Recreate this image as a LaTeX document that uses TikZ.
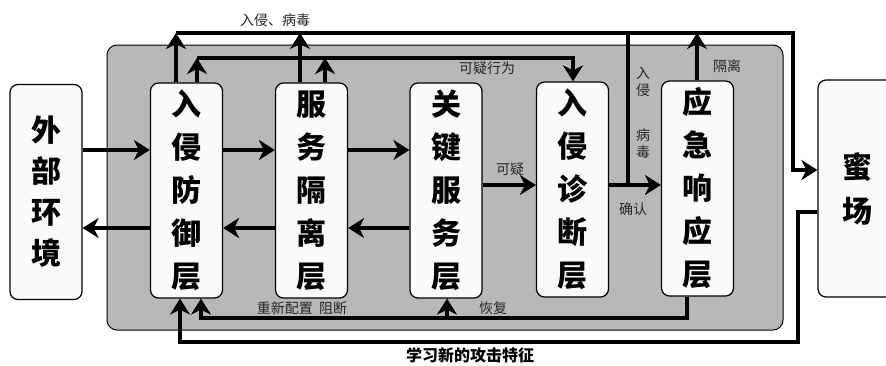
\documentclass[tikz,border=0pt]{standalone}
\usepackage{fontspec}
\newfontfamily\cjk{Noto Sans CJK SC}
\usetikzlibrary{arrows.meta}
\definecolor{panelgray}{gray}{0.72}
\definecolor{boxwhite}{gray}{0.98}
\begin{document}
\begin{tikzpicture}[x=1pt,y=-1pt,
  box/.style={draw, line width=1.2pt, rounded corners=8pt, fill=boxwhite, minimum width=72pt, minimum height=215pt, inner sep=0pt, align=center, font=\cjk\bfseries\fontsize{30}{43}\selectfont},
  panel/.style={draw, line width=1pt, rounded corners=10pt, fill=panelgray, minimum width=676pt, minimum height=285pt, inner sep=0pt},
  arr/.style={line width=4pt, -{Stealth[length=16pt,width=20pt,inset=5pt]}},
  bus/.style={line width=4pt},
  lbl/.style={font=\cjk\fontsize{14}{17}\selectfont, text=black!85, inner sep=0pt, align=center},
  captxt/.style={font=\cjk\bfseries\fontsize{16}{16}\selectfont, inner sep=0pt}
]
\useasboundingbox (0,0) rectangle (886,365);
\node[panel] (panel) at (445,187.5) {};

\node[box, font=\cjk\bfseries\fontsize{30}{41}\selectfont] (ext) at (46,192) {外\\部\\环\\境};
\node[box] (ids) at (186.5,190.5) {入\\侵\\防\\御\\层};
\node[box] (iso) at (311.5,190.5) {服\\务\\隔\\离\\层};
\node[box] (key) at (446,190.5) {关\\键\\服\\务\\层};
\node[box] (diag) at (572.5,189.5) {入\\侵\\诊\\断\\层};
\node[box] (resp) at (697.5,188.5) {应\\急\\响\\应\\层};
\node[box, minimum width=78pt, minimum height=217pt, font=\cjk\bfseries\fontsize{30}{44}\selectfont] (honey) at (857,188.5) {蜜\\场};

\coordinate (t1) at (0,33);
\coordinate (t2) at (0,58);
\coordinate (r1) at (0,150);
\coordinate (r2) at (0,185);
\coordinate (r3) at (0,228);
\coordinate (b1) at (0,318);
\coordinate (b2) at (0,342);
\coordinate (hin) at (0,170);
\coordinate (hout) at (0,212);
\coordinate (xa) at (793,0);
\coordinate (xb) at (798,0);
\coordinate (xv) at (628,0);
\coordinate (ia) at (176,0);
\coordinate (ib) at (197,0);
\coordinate (ic) at (180,0);
\coordinate (id) at (201,0);
\coordinate (sa) at (300,0);
\coordinate (sb) at (325,0);
\coordinate (ka) at (447,0);
\coordinate (da) at (573,0);
\coordinate (ra) at (697,0);
\coordinate (rb) at (687,0);

% forward row
\draw[arr] (ext.east |- r1) -- (ids.west |- r1);
\draw[arr] (ids.east |- r1) -- (iso.west |- r1);
\draw[arr] (iso.east |- r1) -- (key.west |- r1);
% backward row
\draw[arr] (ids.west |- r3) -- (ext.east |- r3);
\draw[arr] (iso.west |- r3) -- (ids.east |- r3);
\draw[arr] (key.west |- r3) -- (iso.east |- r3);
% diagnosis row
\draw[arr] (key.east |- r2) -- (diag.west |- r2);
\draw[arr] (diag.east |- r2) -- (resp.west |- r2);

% top bus 1
\draw[arr] (ia |- t1) -- (xa |- t1) -- (xa |- hin) -- (honey.west |- hin);
\draw[bus] (xv |- t1) -- (xv |- r2);
\draw[arr] (ia |- ids.north) -- (ia |- t1);
\draw[arr] (sa |- iso.north) -- (sa |- t1);
\draw[arr] (ra |- resp.north) -- (ra |- t1);
% top bus 2
\draw[arr] (ib |- t2) -- (da |- t2) -- (da |- diag.north);
\draw[arr] (ib |- ids.north) -- (ib |- t2);
\draw[arr] (sb |- iso.north) -- (sb |- t2);

% bottom bus 1
\draw[arr] (rb |- resp.south) -- (rb |- b1) -- (id |- b1) -- (id |- ids.south);
\draw[arr] (ka |- b1) -- (ka |- key.south);
% bottom bus 2
\draw[arr] (honey.west |- hout) -- (xb |- hout) -- (xb |- b2) -- (ic |- b2) -- (ic |- ids.south);

% labels
\node[lbl] (l1) at (275,20) {入侵、病毒};
\node[lbl] (l2) at (487,68) {可疑行为};
\node[lbl] (l3) at (643,82) {入\\侵};
\node[lbl] (l4) at (643,144) {病\\毒};
\node[lbl] (l5) at (727,66) {隔离};
\node[lbl] (l6) at (510,169) {可疑};
\node[lbl] (l7) at (633,209) {确认};
\node[lbl] (l8) at (302,308) {重新配置\ \ 阻断};
\node[lbl] (l9) at (493,308) {恢复};
\node[captxt] (capt) at (470,355) {学习新的攻击特征};
\end{tikzpicture}
\end{document}
